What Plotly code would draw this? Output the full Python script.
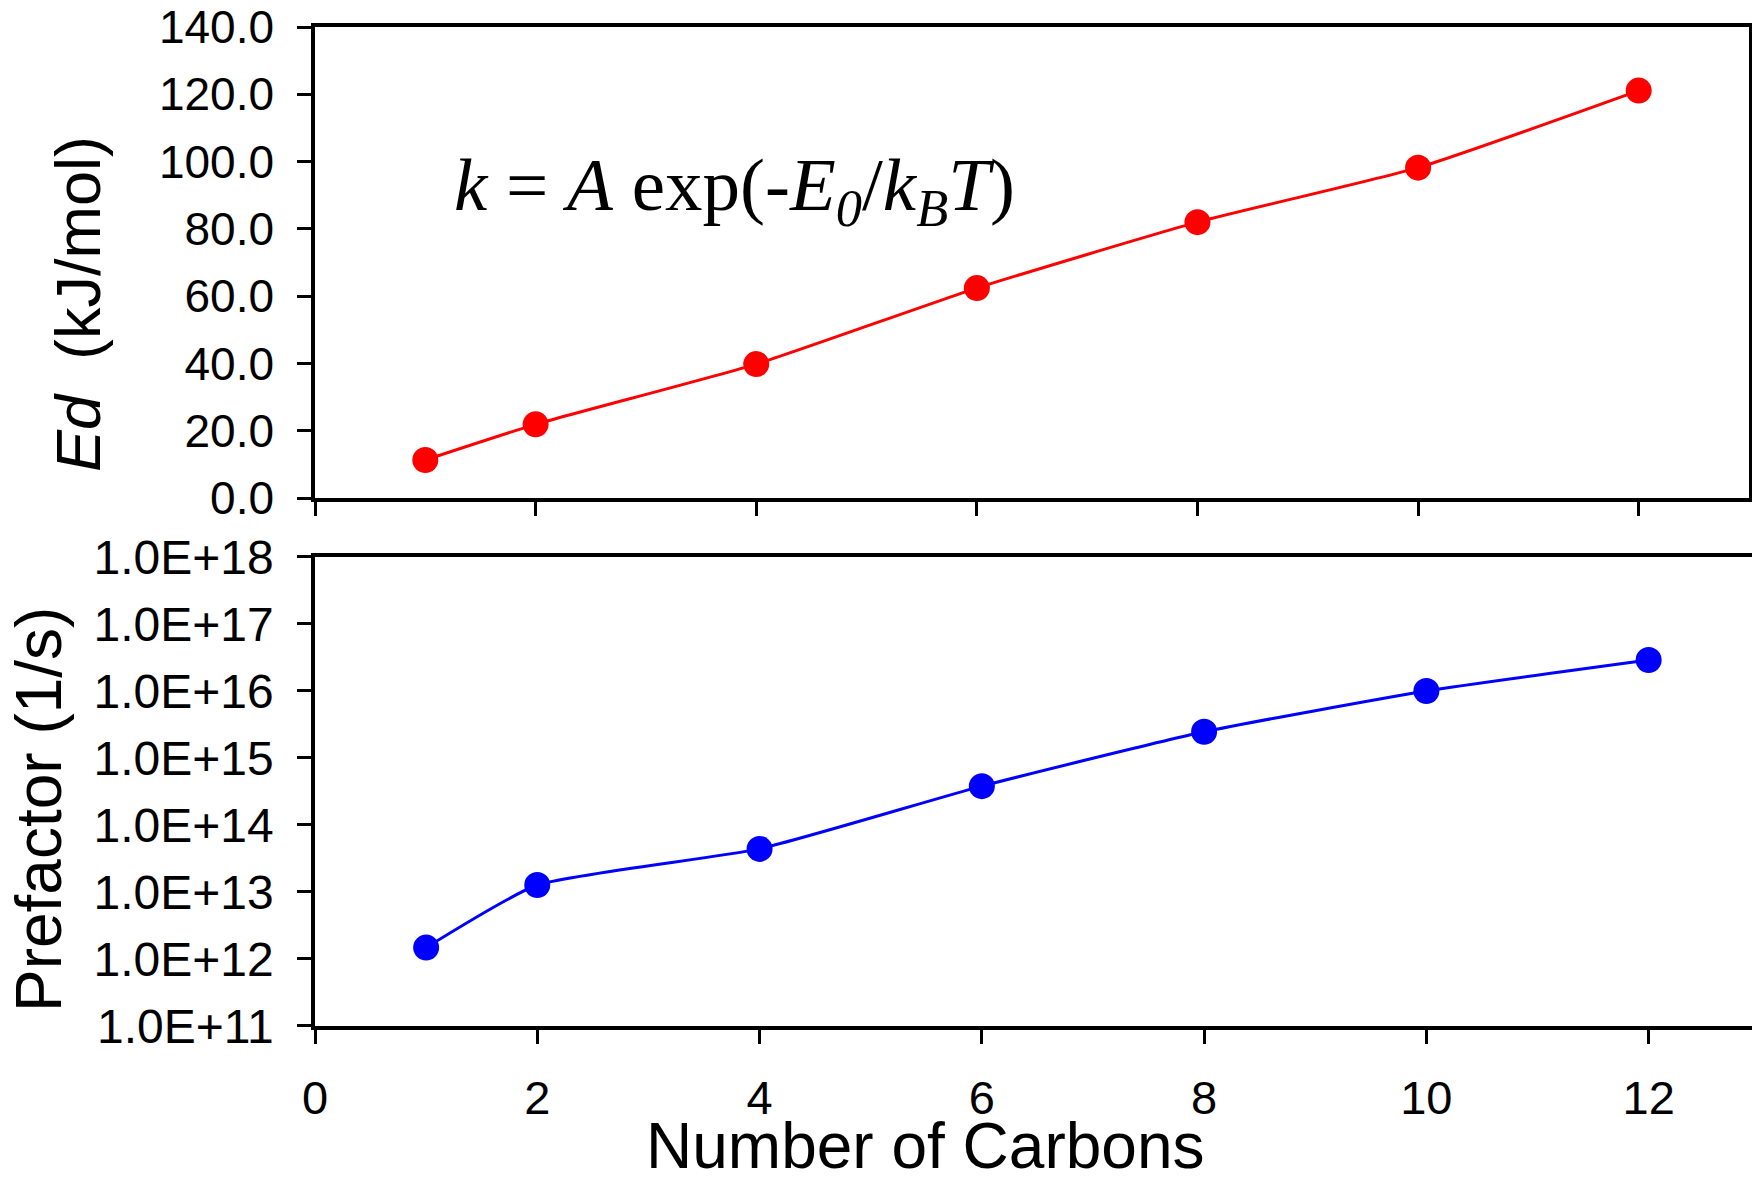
import plotly.graph_objects as go

# Desorption energy and prefactor vs. chain length
carbons = [1, 2, 4, 6, 8, 10, 12]
ed_kj_mol = [11.3, 21.9, 39.8, 62.4, 82.0, 98.2, 121.1]
prefactor = [1.48e12, 1.27e13, 4.4e13, 3.8e14, 2.46e15, 1.0e16, 2.9e16]

ed_ticks = [0, 20, 40, 60, 80, 100, 120, 140]
pre_ticks = [1e11, 1e12, 1e13, 1e14, 1e15, 1e16, 1e17, 1e18]
pre_ticktext = ["1.0E+%d" % e for e in range(11, 19)]
x_ticks = [0, 2, 4, 6, 8, 10, 12]

FONT = "Liberation Sans, Arial, sans-serif"
W, H = 1752, 1181
ML, MR, MT, MB = 315, 0, 27, 155

fig = go.Figure()

fig.add_trace(go.Scatter(
    x=carbons, y=ed_kj_mol, mode="lines+markers",
    line=dict(color="#FF0000", width=3, shape="spline", smoothing=0.5),
    marker=dict(color="#FF0000", size=26),
    xaxis="x", yaxis="y", showlegend=False,
))
fig.add_trace(go.Scatter(
    x=carbons, y=prefactor, mode="lines+markers",
    line=dict(color="#0000FF", width=3, shape="spline", smoothing=0.5),
    marker=dict(color="#0000FF", size=26),
    xaxis="x2", yaxis="y2", showlegend=False,
))

axis_common = dict(
    showgrid=False, zeroline=False, showline=True, linecolor="black",
    linewidth=3.5, ticks="outside", ticklen=14, tickwidth=3,
    tickcolor="black",
)

top_dom = 1 - 3 / (W - ML - MR)

fig.update_layout(
    width=W, height=H,
    margin=dict(l=ML, r=MR, t=MT, b=MB),
    paper_bgcolor="white", plot_bgcolor="white",
    font=dict(family=FONT, color="black", size=46),
    xaxis=dict(
        **axis_common, domain=[0, top_dom], range=[0, 13],
        tickvals=x_ticks, showticklabels=False, mirror=True,
        anchor="y",
    ),
    yaxis=dict(
        **axis_common, domain=[0.5285, 1], range=[0, 140],
        tickvals=ed_ticks, tickformat=".1f", mirror=True,
        tickfont=dict(size=46), ticklabelstandoff=14,
        anchor="x",
    ),
    xaxis2=dict(
        **axis_common, domain=[0, 1], range=[0, 12.93],
        tickvals=x_ticks, mirror=True, tickfont=dict(size=47),
        ticklabelstandoff=14, anchor="y2",
    ),
    yaxis2=dict(
        **axis_common, type="log", domain=[0, 0.4695], range=[11, 18],
        tickvals=pre_ticks, ticktext=pre_ticktext, mirror=False,
        tickfont=dict(size=48), ticklabelstandoff=14,
        anchor="x2",
    ),
)

# Axis titles
fig.add_annotation(
    text="<i>Ed</i>\u00a0\u00a0(kJ/mol)", xref="paper", yref="paper",
    x=0, y=0.7227, xshift=-237, textangle=-90, showarrow=False,
    font=dict(size=63), xanchor="center", yanchor="middle",
)
fig.add_annotation(
    text="Prefactor (1/s)", xref="paper", yref="paper",
    x=0, y=0.2162, xshift=-276, textangle=-90, showarrow=False,
    font=dict(size=64), xanchor="center", yanchor="middle",
)
fig.add_annotation(
    text="Number of Carbons", xref="paper", yref="paper",
    x=0.4245, y=-0.1545, yshift=-3, borderpad=0, showarrow=False,
    font=dict(size=64), xanchor="center", yanchor="bottom",
)

# Rate expression
fig.add_annotation(
    text="<i>k</i> = <i>A</i> exp(-<i>E<sub>0</sub></i>/<i>k<sub>B</sub>T</i>)",
    xref="x", yref="y", x=1.24, y=91.6, showarrow=False,
    font=dict(family="Liberation Serif, Times New Roman, serif", size=75),
    xanchor="left", yanchor="middle",
)

fig.write_html("out.html")
